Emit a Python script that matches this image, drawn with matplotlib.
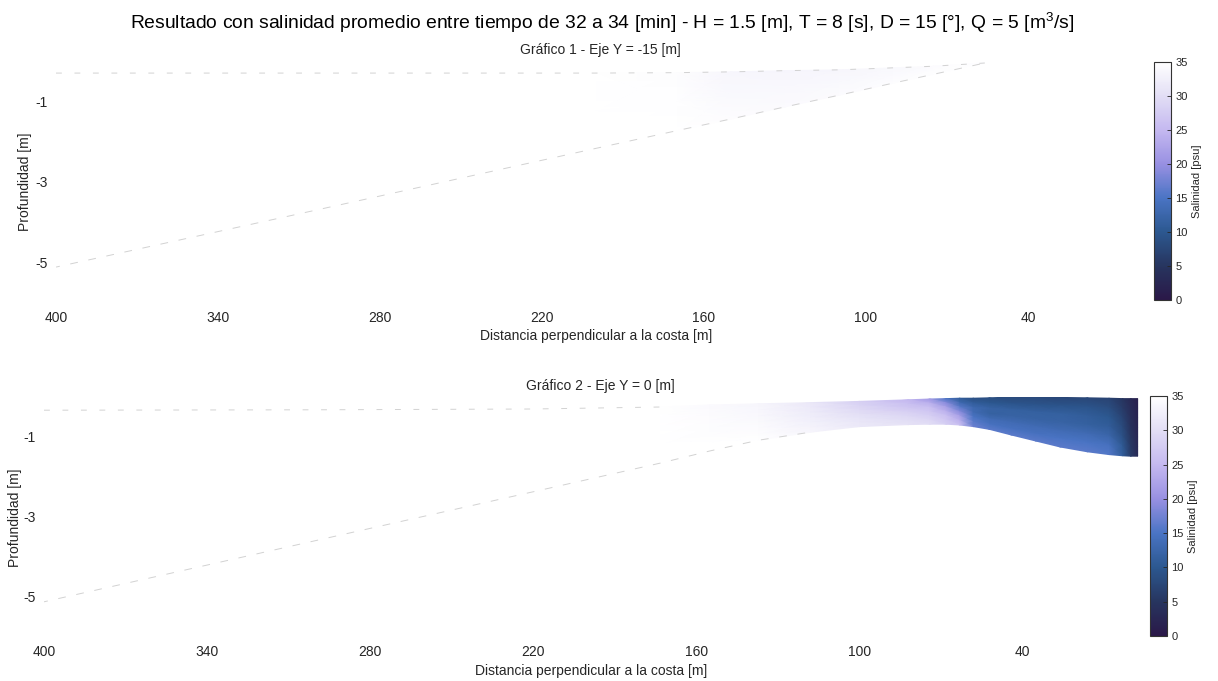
import numpy as np
import matplotlib
matplotlib.use("Agg")
import matplotlib.pyplot as plt
from matplotlib.colors import LinearSegmentedColormap

plt.rcParams['font.family'] = ['Liberation Sans', 'DejaVu Sans']
plt.rcParams['mathtext.fontset'] = 'custom'
plt.rcParams['mathtext.rm'] = 'Liberation Sans'

# ---- datos ----
# Grafico 1 (Eje Y = -15 m): estaciones, superficie, fondo y salinidad (sup -> fondo)
x1 = [400, 300, 200, 170, 150, 130, 110, 90, 75, 56]
surf1 = [-0.30, -0.30, -0.30, -0.29, -0.27, -0.24, -0.22, -0.17, -0.13, -0.05]
bot1 = [-5.12, -3.65, -2.17, -1.73, -1.44, -1.14, -0.85, -0.55, -0.33, -0.05]
sal1 = [
    [35, 35, 35, 34.6, 33.6, 33.4, 33.6, 34.0, 34.4, 35],
    [35, 35, 35, 34.8, 34.0, 33.8, 34.0, 34.3, 34.6, 35],
    [35, 35, 35, 35.0, 34.5, 34.3, 34.4, 34.6, 34.8, 35],
]

# Grafico 2 (Eje Y = 0 m)
x2 = [400, 300, 220, 173, 155, 137, 118, 100, 82, 74, 68, 63, 58, 52, 44, 35, 26, 16, 8, 3, 0, -2.5]
surf2 = [-0.33, -0.32, -0.30, -0.25, -0.20, -0.17, -0.14, -0.11, -0.07, -0.05, -0.04,
         -0.03, -0.03, -0.02, 0.0, -0.01, -0.01, -0.02, -0.03, -0.04, -0.04, -0.04]
bot2 = [-5.12, -3.59, -2.37, -1.65, -1.35, -1.08, -0.88, -0.74, -0.69, -0.68, -0.68,
        -0.70, -0.74, -0.81, -0.95, -1.10, -1.25, -1.37, -1.44, -1.47, -1.48, -1.48]
sal2 = [
    [35, 35, 35, 35, 34.3, 33.5, 31.5, 28.0, 25.0, 21, 15, 11, 9.0, 8.5, 8.0, 8.0, 7.5, 7.5, 7.0, 5.0, 3.0, 1.5],
    [35, 35, 35, 35, 34.4, 33.7, 31.8, 28.8, 26.0, 24, 19, 13, 11.0, 10.0, 9.5, 9.5, 9.5, 9.5, 8.5, 6.0, 3.5, 1.8],
    [35, 35, 35, 35, 34.5, 33.9, 32.1, 29.5, 27.0, 26, 22, 16, 13.0, 12.0, 11.5, 11.5, 11.5, 11.0, 10.0, 7.0, 4.0, 2.0],
    [35, 35, 35, 35, 34.6, 34.1, 32.4, 30.2, 28.2, 27, 24, 19, 13.5, 11.5, 12.0, 12.0, 12.0, 11.5, 11.0, 8.0, 4.5, 2.2],
    [35, 35, 35, 35, 34.7, 34.4, 32.8, 30.8, 29.2, 28, 26, 22, 15.0, 13.5, 13.5, 13.5, 13.5, 13.5, 12.5, 9.0, 5.0, 2.5],
    [35, 35, 35, 35, 34.9, 34.7, 33.2, 31.3, 30.0, 29, 27, 24, 16.0, 14.5, 14.5, 14.5, 15.0, 15.0, 14.5, 10.5, 5.5, 2.8],
    [35, 35, 35, 35, 35.0, 35.0, 33.5, 31.6, 30.5, 30, 28, 26, 17.0, 16.0, 16.0, 16.0, 16.0, 16.0, 15.5, 11.0, 6.0, 3.0],
]

cb_ticks = [0, 5, 10, 15, 20, 25, 30, 35]
x_ticks = [400, 340, 280, 220, 160, 100, 40]
y_ticks = [-5, -3, -1]

suptitle = ("Resultado con salinidad promedio entre tiempo de 32 a 34 [min] - "
            "H = 1.5 [m], T = 8 [s], D = 15 [°], Q = 5 [m$^3$/s]")
titles = ["Gráfico 1 - Eje Y = -15 [m]", "Gráfico 2 - Eje Y = 0 [m]"]

# colormap tipo cmocean (oscuro -> azul -> lila -> blanco)
cmap = LinearSegmentedColormap.from_list("sal", [
    (0.0, "#2a1848"), (5 / 35, "#27355f"), (10 / 35, "#2c5890"), (15 / 35, "#4a74c4"),
    (20 / 35, "#9890e2"), (25 / 35, "#c4b8f0"), (30 / 35, "#e2def5"), (1.0, "#ffffff")])

txt = "#262626"
fig = plt.figure(figsize=(12.18, 6.81), dpi=100)
fig.text(0.494, 0.967, suptitle, ha='center', va='center', fontsize=13.85, color='black')

W, H = 1218.0, 681.0
# (izq px, der px, arriba px, abajo px, xlim der, cbar izq px, cbar arriba px, cbar abajo px)
layouts = [
    (56, 1136, 61, 302.5, 0, 1154, 62, 300),
    (44, 1139, 397, 637, -3, 1150, 396, 636),
]
# limites en x de los bordes discontinuos (superficie, fondo)
dash_lim = [(56, 56), (170, 118)]
panels = [(x1, surf1, bot1, sal1), (x2, surf2, bot2, sal2)]

for i, ((xs, su, bo, sa), lay) in enumerate(zip(panels, layouts)):
    lpx, rpx, tpx, bpx, xr, cl, ct, cbm = lay
    ax = fig.add_axes([lpx / W, 1 - bpx / H, (rpx - lpx) / W, (bpx - tpx) / H])
    xs = np.array(xs, float)
    su = np.array(su, float)
    bo = np.array(bo, float)
    S = np.array(sa, float)
    nz = S.shape[0]
    sig = np.linspace(0, 1, nz)[:, None]
    X = np.tile(xs, (nz, 1))
    Z = su[None, :] + sig * (bo - su)[None, :]
    m = ax.pcolormesh(X, Z, S, shading='gouraud', cmap=cmap, vmin=0, vmax=35)

    # bordes de la malla (artefactos claros discontinuos)
    ks = xs >= dash_lim[i][0]
    kb = xs >= dash_lim[i][1]
    ax.plot(xs[ks], su[ks], color='#d2d2d2', lw=0.7, ls=(0, (6, 13)))
    ax.plot(xs[kb], bo[kb], color='#d2d2d2', lw=0.7, ls=(4, (8, 11)))

    ax.set_xlim(400, xr)
    ax.set_ylim(-6, 0)
    for s in ax.spines.values():
        s.set_visible(False)
    ax.set_xticks(x_ticks)
    ax.set_xticklabels([str(v) for v in x_ticks])
    ax.set_yticks(y_ticks)
    ax.set_yticklabels([str(v) for v in y_ticks])
    ax.tick_params(length=0, labelsize=10, colors=txt, pad=6)
    ax.set_xlabel("Distancia perpendicular a la costa [m]", fontsize=10, color=txt, labelpad=3)

    # titulo del panel y etiqueta del eje y
    fig.text(600 / W, 1 - (tpx - 11) / H, titles[i], ha='center', va='center', fontsize=10, color=txt)
    ylx = 25 if i == 0 else 15
    fig.text(ylx / W, 1 - (tpx + 121) / H, "Profundidad [m]", rotation=90,
             ha='center', va='center', fontsize=10, color=txt)

    cax = fig.add_axes([cl / W, 1 - cbm / H, 17 / W, (cbm - ct) / H])
    cb = fig.colorbar(m, cax=cax, ticks=cb_ticks)
    cb.outline.set_edgecolor('#333333')
    cb.outline.set_linewidth(0.8)
    cax.tick_params(direction='in', length=3, width=0.6, labelsize=8, colors=txt, pad=3)
    cb.set_label("Salinidad [psu]", fontsize=8, color=txt, labelpad=3)

fig.savefig("out.png", dpi=100)
